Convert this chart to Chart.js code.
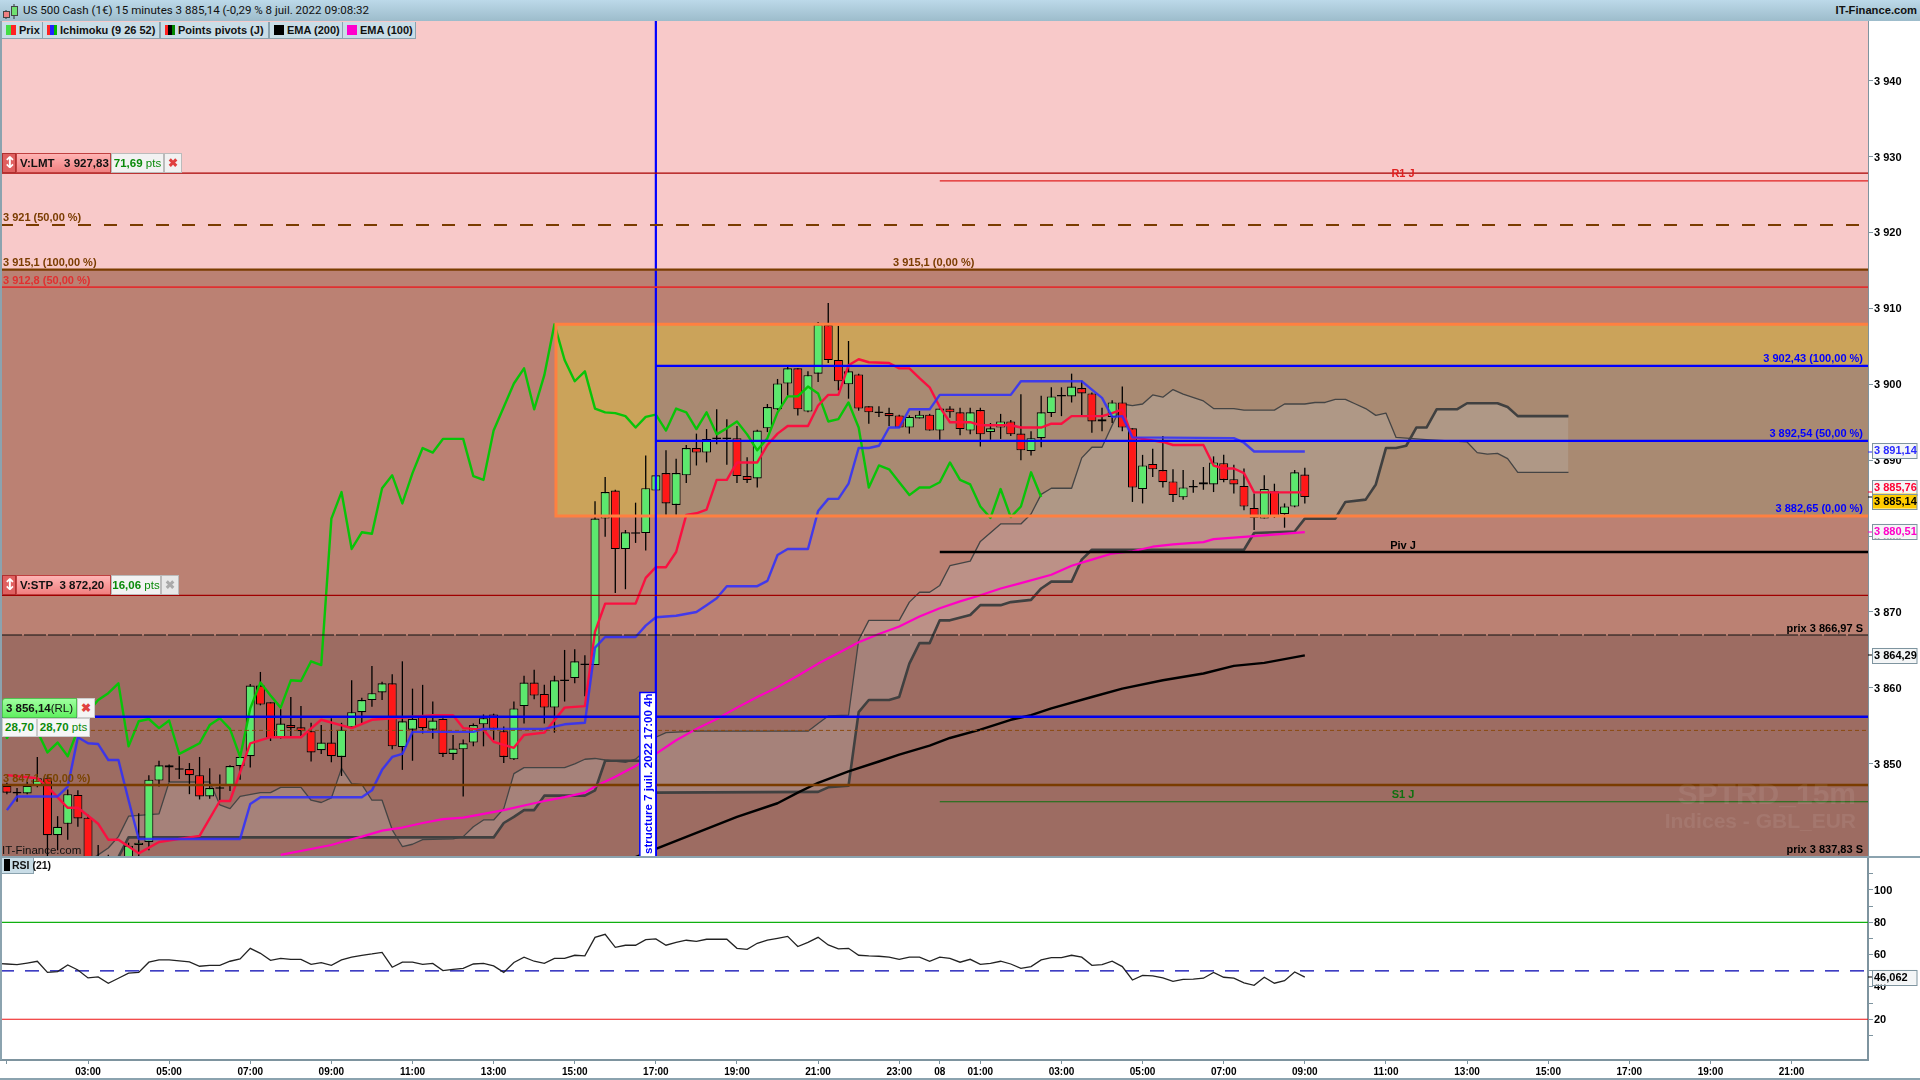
<!DOCTYPE html>
<html><head><meta charset="utf-8"><title>US 500 Cash</title>
<script src="https://cdn.jsdelivr.net/npm/chart.js@4/dist/chart.umd.min.js"></script>
<style>
html,body{margin:0;padding:0;background:#fff;width:1920px;height:1080px;overflow:hidden;font-family:"Noto Sans",Roboto,sans-serif;}
canvas{position:absolute;left:0;display:block}
.abs{position:absolute}
#hdr{left:0;top:0;width:1920px;height:21px;background:linear-gradient(#bcd9e9,#9dbccb);font-size:12px;line-height:21px;color:#111;white-space:nowrap}
#hdr .t{position:absolute;left:23px;top:0;font-family:Roboto,sans-serif;font-size:11.55px}
#hdr .r{position:absolute;right:3px;top:0;font-family:"Liberation Sans",sans-serif;font-weight:bold;font-size:11.2px}
.tab{position:absolute;top:22px;height:16px;background:#c9dde7;border:1px solid #8ba3af;border-top:0;box-sizing:content-box;font-family:"Liberation Sans",sans-serif;font-weight:700;font-size:11px;line-height:16px;color:#111;white-space:nowrap}
.tab i{position:absolute;top:3px;width:10px;height:10px}
.tab b{position:absolute;left:17px;top:0;font-weight:700}
.w{position:absolute;box-sizing:border-box;font-family:"Liberation Sans",sans-serif;font-size:11.5px;font-weight:700;white-space:nowrap;line-height:18px;text-align:center}
.pts{font-weight:400}
.ar{font-family:"DejaVu Sans",sans-serif;font-size:16px;line-height:17px}
</style></head><body>
<canvas id="price" width="1920" height="836" style="top:21px"></canvas>
<canvas id="rsi" width="1920" height="223" style="top:857px"></canvas>
<div class="abs" id="hdr">
<svg style="position:absolute;left:3px;top:3px" width="16" height="16"><path d="M3 7v9M11 1v15" stroke="#333"/><rect x="0.5" y="8.5" width="6" height="6" fill="#f08080" stroke="#444"/><rect x="8.5" y="3.5" width="6" height="9" fill="#70e070" stroke="#444"/></svg>
<span class="t">US 500 Cash (1€) 15 minutes 3 885,14 (-0,29 % 8 juil. 2022 09:08:32</span><span class="r">IT-Finance.com</span></div>
<div class="tab" style="left:1px;width:40px"><i style="left:4px;background:linear-gradient(90deg,#4d4 50%,#f22 50%)"></i><b>Prix</b></div>
<div class="tab" style="left:42px;width:116px"><i style="left:4px;background:linear-gradient(90deg,#f22 33%,#22f 33% 66%,#0b0 66%)"></i><b>Ichimoku (9 26 52)</b></div>
<div class="tab" style="left:160px;width:107px"><i style="left:4px;background:linear-gradient(90deg,#f22 33%,#000 33% 66%,#080 66%)"></i><b>Points pivots (J)</b></div>
<div class="tab" style="left:269px;width:72px"><i style="left:4px;background:#000"></i><b>EMA (200)</b></div>
<div class="tab" style="left:342px;width:72px"><i style="left:4px;background:#f0c"></i><b>EMA (100)</b></div>

<div class="w ar" style="left:2px;top:153px;width:14px;height:20px;background:#e06060;border:1px solid #b03030;color:#fff">↕</div>
<div class="w" style="left:16px;top:153px;width:95px;height:20px;background:linear-gradient(#ffb4b4,#f08080);border:1px solid #c04040;color:#111;text-align:left;padding-left:3px">V:LMT &nbsp; 3 927,83</div>
<div class="w" style="left:111px;top:153px;width:53px;height:20px;background:#f2f2f2;border:1px solid #bbb;color:#0a8a0a">71,69 <span class="pts">pts</span></div>
<div class="w" style="left:164px;top:153px;width:18px;height:20px;background:#f2f2f2;border:1px solid #bbb;color:#e04040">✖</div>

<div class="w ar" style="left:2px;top:575px;width:14px;height:20px;background:#e06060;border:1px solid #b03030;color:#fff">↕</div>
<div class="w" style="left:16px;top:575px;width:95px;height:20px;background:linear-gradient(#ffb4b4,#f08080);border:1px solid #c04040;color:#111;text-align:left;padding-left:3px">V:STP &nbsp;3 872,20</div>
<div class="w" style="left:111px;top:575px;width:50px;height:20px;background:#f2f2f2;border:1px solid #bbb;color:#0a8a0a">16,06 <span class="pts">pts</span></div>
<div class="w" style="left:161px;top:575px;width:18px;height:20px;background:#e8e8e8;border:1px solid #bbb;color:#aaa">✖</div>

<div class="w" style="left:2px;top:698px;width:75px;height:20px;background:linear-gradient(#a0ffa0,#60f060);border:1px solid #50c050;border-radius:3px 0 0 0;color:#111">3 856,14<span class="pts">(RL)</span></div>
<div class="w" style="left:77px;top:698px;width:18px;height:20px;background:#f4f4f4;border:1px solid #ccc;color:#e04040">✖</div>
<div class="w" style="left:2px;top:718px;width:35px;height:19px;background:#f6f6f6;border:1px solid #ccc;color:#0a8a0a;line-height:17px">28,70</div>
<div class="w" style="left:37px;top:718px;width:53px;height:19px;background:#f6f6f6;border:1px solid #ccc;color:#0a8a0a;line-height:17px">28,70 <span class="pts">pts</span></div>

<div class="tab" style="left:1px;top:857px;width:31px;height:16px;padding:0"><i style="left:2px;width:6px;height:12px;top:2px;background:#000"></i><b style="left:10px;font-size:10.5px">RSI (21)</b></div>
<div class="abs" style="left:0;top:21px;width:2px;height:1039px;background:#8ba3af"></div>
<div class="abs" style="left:0;top:856px;width:1920px;height:2px;background:#8ba3af"></div>
<div class="abs" style="left:0;top:1078px;width:1920px;height:2px;background:#8ba3af"></div>

<script>
// Candles, 15 minute bars, first bar is 01:00 on 7 July (bar number -8), bar 0 is 03:00
const firstBar = -8;
const opens = [3847.1,3846.3,3846.1,3847.1,3848.1,3840.6,3842.1,3845.9,3842.9,3832,3835,3835,3836.7,3839.3,3839.7,3847.8,3849.8,3849.2,3849.3,3848.5,3845.7,3846.9,3847.1,3849.7,3851.0,3860.3,3858.1,3853.4,3855.1,3854.8,3854.3,3851.8,3852.8,3850.9,3854.8,3856.8,3858.4,3859.4,3860.6,3852.2,3854.5,3856.2,3854.5,3855.9,3851.3,3851.9,3852.8,3855.2,3856.5,3854.3,3850.6,3857.6,3860.7,3859.2,3857.4,3861.1,3861.3,3863.2,3863.0,3882.3,3886.0,3878.3,3880.5,3880.4,3886.0,3888.3,3884.1,3888.0,3891.6,3891.0,3893.0,3893.0,3892.9,3887.9,3887.6,3894.2,3896.7,3900.1,3902.1,3896.4,3901.4,3907.8,3903.2,3900.0,3901.3,3897.1,3896.4,3896.2,3895.9,3894.3,3895.5,3896.0,3893.9,3896.8,3896.3,3893.9,3896.6,3893.7,3894.3,3895.1,3893.5,3891.2,3892.9,3896.2,3898.6,3898.4,3899.5,3898.8,3895.1,3895.7,3897.6,3894.2,3886.2,3889.5,3888.7,3887.2,3885.1,3886.6,3886.8,3886.8,3889.6,3887.5,3886.6,3883.7,3882.3,3885.9,3882.9,3883.9,3888.1];
const highs = [3847.5,3846.8,3847.6,3850.9,3848.5,3843.1,3846.6,3846.5,3843.3,3839.3,3838.0,3837,3839.6,3843.5,3848.5,3850.4,3849.9,3851.0,3850.1,3850.9,3849.4,3848.6,3849.8,3851,3860.5,3862.1,3858.1,3857.2,3858.8,3857.6,3855.4,3855.1,3856.0,3855.4,3861.0,3858.7,3862.9,3860.8,3861.8,3863.5,3859.9,3860.4,3858.2,3856.0,3853.8,3853.2,3855.3,3856.5,3856.6,3854.9,3858.2,3861.6,3862.4,3860.4,3861.6,3865.0,3865.1,3864.3,3884.6,3887.8,3886.1,3880.8,3884.4,3890.6,3888.2,3891.3,3890.2,3892.0,3893.5,3894.1,3896.7,3895.4,3894.5,3890.4,3894,3897.4,3900.7,3902.4,3902.1,3901.7,3908.2,3910.7,3907.7,3905.7,3901.4,3897.1,3897.1,3896.9,3896,3895.9,3896.5,3896.1,3896.9,3897.1,3896.9,3896.9,3896.9,3894.9,3896.1,3895.3,3898.7,3893.8,3898.5,3899.6,3899.6,3901.4,3900.5,3898.9,3896.9,3897.9,3899.7,3894.2,3890.7,3891.5,3893.2,3888.8,3888.7,3887.4,3889.1,3890.5,3890.7,3889.4,3888.9,3885.6,3888.0,3886.9,3884.3,3888.7,3889.0];
const lows = [3846.0,3845.0,3846.0,3846.9,3837.3,3838.6,3840.0,3841.7,3833.4,3831,3834,3834,3835,3837.7,3838.6,3847.0,3847.6,3848.0,3846.0,3845.3,3845.4,3845.2,3846.4,3847.9,3849.5,3857.7,3853.0,3853.3,3853.5,3853.5,3850.3,3851.3,3850.2,3848.4,3854.8,3855.1,3857.5,3858.4,3851.9,3849.2,3850.4,3854.0,3853.3,3850.9,3850.5,3845.7,3852.3,3852.3,3853.1,3850.1,3850.5,3855.3,3858.5,3855.3,3854.1,3858.2,3860.6,3858.9,3863.0,3879.9,3872.5,3873.0,3879.1,3878.1,3885.9,3882.8,3882.8,3887.0,3889.3,3889.7,3892.1,3889.4,3887.0,3887.0,3886.4,3893.7,3896.6,3898.5,3895.9,3896.3,3900.3,3902.8,3899.2,3898.1,3896.5,3894.8,3895.7,3894.5,3894.3,3893.5,3895.5,3893.9,3892.7,3895.6,3893.3,3893.4,3891.8,3892.7,3892.8,3893.2,3890.0,3890.6,3891.7,3895.7,3895.8,3897.6,3895.8,3893.6,3893.8,3894.9,3893.8,3884.5,3884.3,3887.8,3886.4,3884.5,3884.8,3885.7,3886.1,3885.8,3887.1,3885.6,3883.4,3880.8,3882.3,3882.4,3881.1,3883.8,3884.3];
const closes = [3846.2,3846.1,3847.1,3848.1,3840.6,3841.7,3846.0,3842.8,3834.7,3835,3836,3836,3839.2,3839.6,3847.9,3849.8,3849.5,3849.4,3848.5,3845.7,3846.8,3846.7,3849.7,3850.9,3860.3,3857.8,3853.4,3855.3,3854.7,3854.3,3851.5,3852.8,3851.0,3854.5,3856.8,3858.4,3859.3,3860.6,3852.3,3855.6,3855.9,3854.7,3855.7,3851.3,3852.0,3852.7,3855.1,3856.0,3854.6,3850.9,3857.3,3860.7,3859.0,3857.4,3861.0,3860.9,3863.5,3863.0,3882.3,3885.8,3878.3,3880.5,3880.3,3886.3,3888.0,3884.3,3888.3,3891.6,3891.0,3892.8,3892.8,3892.8,3887.9,3887.4,3893.9,3897.0,3900.1,3902.1,3896.7,3901.2,3907.9,3903.2,3900.4,3901.7,3896.8,3896.3,3896.2,3895.8,3894.3,3895.7,3896.0,3893.9,3896.8,3896.3,3894.1,3896.3,3893.4,3894.2,3895.1,3893.4,3891.3,3892.9,3896.3,3898.4,3898.4,3899.7,3898.8,3895.1,3895.4,3897.6,3894.3,3886.4,3889.3,3888.8,3887.1,3885.4,3886.4,3886.4,3887.1,3889.7,3887.4,3886.8,3883.9,3882.4,3886.2,3882.5,3883.9,3888.4,3885.14];

const tenkanBars = [-8,-5,-4,-2,-1,1,2,3,5,7,11,13,14,16,18,21,23,26,28,34,36,37,39,40,42,43,45,47,49,50,51,54,55,56,57,58,59,60,61,62,63,64,66,67,68,69,71,72,73,74,75,76,77,79,80,81,82,83,84,85,87,88,91,92,94,95,96,97,100,101,102,103,106,107,110,111,112,113,114,115,120];
const tenkanVals = [3848.5,3848.1,3847.0,3844.2,3844.2,3842.1,3840.0,3840.0,3838.2,3839.7,3840.5,3845.1,3845.1,3852.7,3853.5,3853.5,3855.8,3854.7,3855.8,3856.4,3856.4,3854.7,3854.5,3852.9,3852.1,3853.8,3854.1,3857.4,3857.6,3867.4,3871.1,3871.1,3874.5,3875.9,3875.9,3877.9,3882.8,3883.0,3883.5,3887.4,3887.4,3889.7,3889.7,3892.0,3893.5,3894.5,3894.5,3897.2,3898.6,3898.6,3902.5,3903.3,3902.9,3902.8,3902.1,3902.1,3900.8,3899.6,3897.0,3895.0,3895.0,3894.6,3894.6,3894.3,3894.3,3894.8,3894.8,3895.8,3895.8,3896.2,3896.7,3893.0,3892.4,3892.0,3892.0,3889.3,3888.9,3888.9,3888.3,3885.76,3885.76];

const kijunBars = [-8,-7,-3,-2,-1,0,1,2,3,4,5,15,16,17,27,28,29,30,31,32,38,39,45,47,49,50,51,54,55,56,58,60,61,62,63,66,67,68,69,71,72,73,74,75,76,77,78,79,80,81,83,84,91,92,98,99,100,101,102,103,113,114,115,120];
const kijunVals = [3843.9,3845.7,3845.7,3847.0,3853.5,3852.7,3852.6,3850.5,3850.5,3845.2,3840.1,3840.1,3844.7,3845.6,3845.6,3846.5,3849.2,3850.9,3851.3,3854.2,3854.2,3854.6,3854.6,3855.2,3855.4,3865.3,3866.7,3866.7,3868.2,3869.3,3869.5,3870.0,3870.9,3871.8,3873.4,3873.4,3874.1,3877.5,3878.3,3878.3,3883.3,3884.9,3884.9,3886.9,3891.6,3891.6,3891.9,3894.3,3894.3,3896.7,3896.7,3898.6,3898.6,3900.4,3900.4,3899.3,3898.2,3895.7,3895.8,3893.0,3892.9,3892.3,3891.14,3891.14];

const spanABars = [0,1,2,3,4,7,8,12,13,14,15,17,18,19,21,22,23,24,25,26,27,28,29,30,31,32,33,36,37,38,39,40,41,42,43,47,48,49,50,51,53,54,55,56,57,60,71,72,73,75,76,77,80,81,82,83,84,85,87,88,90,92,93,94,95,97,98,99,100,101,102,103,104,105,106,107,108,110,111,113,114,117,118,120,121,122,123,124,125,126,127,128,129,132,136,137,138,139,140,141,146];
const spanAVals = [3837.1,3838.0,3838.9,3840.4,3843.1,3843.4,3847.6,3847.6,3844.6,3844.1,3845.7,3846.2,3846.2,3846.9,3846.9,3845.2,3844.9,3845.5,3849.4,3847.4,3847.3,3845.2,3845.2,3841.3,3839.1,3839.4,3840.0,3840.1,3840.4,3841.7,3842.6,3842.6,3844.1,3848.7,3849.5,3849.5,3850.0,3850.6,3850.7,3850.5,3850.2,3850.6,3851.8,3853.5,3854.1,3854.3,3854.3,3855.3,3856.3,3856.4,3866.3,3868.9,3868.9,3871.3,3872.6,3872.6,3873.5,3876.1,3876.7,3879.3,3881.6,3881.6,3882.9,3885.5,3886.3,3886.3,3890.3,3891.7,3891.7,3894.6,3897.4,3897.2,3897.4,3898.6,3898.3,3899.3,3898.7,3897.8,3896.8,3896.8,3896.6,3896.6,3897.4,3897.4,3897.6,3897.6,3898.0,3898.0,3897.4,3896.8,3895.9,3896.2,3893.0,3892.7,3892.4,3891.0,3890.8,3890.9,3890.2,3888.4,3888.4];

const spanBBars = [0,2,3,4,40,41,42,43,44,45,49,50,51,55,56,72,73,75,76,77,79,80,81,82,83,84,85,87,88,90,91,93,94,95,97,98,99,114,115,119,120,123,124,126,127,128,129,130,131,132,133,135,136,139,140,141,146];
const spanBVals = [3833.0,3835.4,3837.7,3840.3,3840.3,3842.2,3843.0,3843.9,3843.9,3845.8,3845.8,3846.5,3850.4,3850.4,3846.2,3846.3,3846.9,3847.1,3856.8,3858.4,3858.4,3858.8,3863.2,3865.9,3865.9,3868.9,3868.9,3869.6,3870.9,3870.9,3871.3,3871.6,3873.1,3874.0,3874.0,3876.9,3878.2,3878.2,3880.4,3880.6,3882.3,3882.3,3884.5,3884.8,3886.8,3891.6,3891.6,3891.9,3894.3,3894.3,3896.7,3896.7,3897.5,3897.5,3897.0,3895.8,3895.8];

const ema100Bars = [19,24,25,27,29,31,33,35,37,39,41,43,45,47,49,50,52,54,56,58,60,62,64,66,68,70,72,74,76,78,80,82,84,86,88,90,92,95,97,99,101,103,105,107,110,111,114,116,120];
const ema100Vals = [3838.0,3839.3,3839.7,3840.4,3841.2,3841.6,3842.2,3842.7,3842.9,3843.4,3843.9,3844.5,3845.1,3845.6,3846.2,3847.0,3848.3,3849.7,3851.3,3853.1,3854.6,3855.9,3857.4,3858.8,3860.1,3861.6,3863.2,3864.6,3866.0,3867.1,3868.1,3869.4,3870.5,3871.4,3872.2,3873.1,3873.8,3874.9,3876.1,3876.9,3877.7,3878.0,3878.6,3878.9,3879.2,3879.6,3879.9,3880.1,3880.51];

const ema200Bars = [54,56,60,64,68,70,72,75,78,80,83,85,88,91,93,95,99,102,106,110,113,116,120];
const ema200Vals = [3837.7,3838.8,3840.9,3843.0,3844.8,3846.2,3847.5,3849.0,3850.3,3851.2,3852.4,3853.4,3854.5,3855.8,3856.4,3857.3,3858.8,3859.9,3861.0,3861.9,3862.9,3863.3,3864.29];

// RSI(21), first value belongs to bar -9
const rsiFirstBar = -9;
const rsiVals = [54.6,54.2,53.8,54.8,55.9,49,49.5,53.6,50.5,45.6,46.2,42.3,45.4,48.5,49,55.3,56.7,56.7,56.1,55.5,52.8,53.4,53.4,55.9,57.3,63.9,60.8,56.5,57.7,57.1,57.1,54,55.1,53.4,56.7,58.4,59.6,60.4,61.4,52.2,55.3,55.3,54,54.6,50.1,50.9,51.5,54.2,54.6,53,49,55.1,58.4,55.9,54.6,57.7,57.7,59.6,59.2,70.7,72.6,64.5,65.8,65.8,69.3,69.7,65.8,67.6,68.9,68.2,69.5,69.5,69.5,63.9,63.3,67,68.9,70.1,71.3,65,67.6,70.7,66,63.5,63.9,59.6,59.2,59,58.4,57.1,58.4,58.4,55.9,58.4,57.7,55.3,57.1,54,54.6,55.9,54.2,51.5,52.6,56.7,58.1,58.1,59.6,58.4,53.4,53.8,55.9,52.6,44.3,47.2,46.8,45.6,43.5,44.7,44.9,45.4,49,46,45.4,42.5,41,46,42.3,43.9,49.3,46.06];

// Levels
const limitPrice = 3927.83, fib50Upper = 3921, fibTop = 3915.1, redLevel = 3912.8;
const boxTop = 3907.9, structTop = 3902.43, structMid = 3892.54, structLow = 3882.65;
const stopPrice = 3872.20, prixHigh = 3866.97, rlPrice = 3856.2, brownDashed = 3854.4, fib50Lower = 3847.2, prixLow = 3837.83;
const r1 = 3926.8, piv = 3877.9, s1 = 3845.0;
const structureBar = 56, boxBar = 46.15, pivotBar = 84;
const xTickBars = [-8,0,8,16,24,32,40,48,56,64,72,80,84,88,96,104,112,120,128,136,144,152,160,168];
const xTickLabels = ['','03:00','05:00','07:00','09:00','11:00','13:00','15:00','17:00','19:00','21:00','23:00','08','01:00','03:00','05:00','07:00','09:00','11:00','13:00','15:00','17:00','19:00','21:00'];
const priceTicks = [3850,3860,3870,3880,3890,3900,3910,3920,3930,3940];
const rsiTickLabels = [20,40,60,80,100];

const XMIN = -8.68, XMAX = 175.54;
const pts = (xs, ys) => xs.map((x, i) => ({x, y: ys[i]}));
const hl = (v, color, w, dash, from) => ({type:'line', data:[{x: from ?? XMIN, y:v},{x:XMAX, y:v}], borderColor:color, borderWidth:w, borderDash:dash||[], pointRadius:0, order:1, tension:0});
const band = (hi, lo, color, from, order) => ({type:'line', data:[{x:from ?? XMIN, y:hi},{x:XMAX, y:hi}], borderWidth:0, borderColor:'transparent', backgroundColor:color, fill:{value:lo}, pointRadius:0, order});
const line = (data, color, w, order) => ({type:'line', data, borderColor:color, borderWidth:w, pointRadius:0, tension:0, order, borderJoinStyle:'round'});

const bars = closes.map((_, i) => firstBar + i);
const isUp = closes.map((c, i) => c >= opens[i]);
const chikou = closes.map((c, i) => ({x: firstBar + i - 26, y: c}));

const YMAX = 3947.86, YMIN = 3837.72;
const datasets = [
  band(YMAX, fibTop, '#f8c9c9', undefined, 100),
  band(fibTop, prixHigh, '#bb8173', undefined, 99),
  band(prixHigh, YMIN, '#9d6c62', undefined, 98),
  band(boxTop, structLow, '#cba35a', boxBar, 97),
  band(structTop, structLow, '#a98a72', structureBar, 96),
  Object.assign(line(pts(spanABars, spanAVals), '#444', 1.3, 50), {fill:'+1', backgroundColor:'rgba(195,195,195,0.26)'}),
  line(pts(spanBBars, spanBVals), '#404040', 2.6, 49),
  {type:'bar', grouped:false, data:bars.map((x,i)=>({x, y:[lows[i],highs[i]]})), barThickness:1.3, inflateAmount:0, backgroundColor:'#000', borderWidth:0, order:30},
  {type:'bar', grouped:false, data:bars.map((x,i)=>({x, y:[opens[i],closes[i]]})), barThickness:9, inflateAmount:0, borderColor:'#000', borderWidth:1.1, borderSkipped:false,
    backgroundColor:bars.map((x,i)=>isUp[i]?'#5ce86e':'#ff1818'), order:29},
  line(chikou, '#08c408', 2.4, 20),
  line(pts(tenkanBars, tenkanVals), '#fa1040', 2.4, 19),
  line(pts(kijunBars, kijunVals), 'rgba(45,45,255,0.85)', 2.4, 18),
  line(pts(ema100Bars, ema100Vals), '#ff00c4', 2.2, 17),
  line(pts(ema200Bars, ema200Vals), '#000', 2.4, 16),
  hl(limitPrice,'#a80000',1.2),
  hl(fib50Upper,'#7a3c00',2,[13,13]),
  hl(fibTop,'#7a3c00',2.2),
  hl(redLevel,'#e03030',1.8),
  hl(r1,'#e02020',1.2,[],pivotBar),
  hl(structTop,'#0000ff',2.2,[],structureBar),
  hl(structMid,'#0000ff',2.2,[],structureBar),
  hl(stopPrice,'#a00000',1.2),
  hl(prixHigh,'#111',1.2,[22,2]),
  hl(piv,'#000',2.6,[],pivotBar),
  hl(rlPrice,'#0000ee',2.4),
  hl(brownDashed,'#8a4a10',1,[4,3]),
  hl(fib50Lower,'#7a3c00',2.4),
  hl(s1,'#107010',1.2,[],pivotBar),
  {type:'line', data:[{x:XMAX,y:boxTop},{x:boxBar,y:boxTop},{x:boxBar,y:structLow},{x:XMAX,y:structLow}], borderColor:'#ff8040', borderWidth:3, pointRadius:0, borderJoinStyle:'miter', order:2},
  {type:'line', data:[{x:structureBar,y:YMAX},{x:structureBar,y:YMIN}], borderColor:'#0000ff', borderWidth:2.2, pointRadius:0, order:1},
];

const labelFont = 'bold 11px "Liberation Sans",sans-serif';
const leftLabels = [
  ['3 921 (50,00 %)', fib50Upper, '#7a3c00', 3],
  ['3 915,1 (100,00 %)', fibTop, '#7a3c00', 3],
  ['3 912,8 (50,00 %)', redLevel, '#e03030', 3],
  ['3 915,1 (0,00 %)', fibTop, '#7a3c00', 893],
  ['3 847,1 (50,00 %)', fib50Lower, '#7a4400', 3],
];
const rightLabels = [
  ['3 902,43 (100,00 %)', structTop, '#0000ff'],
  ['3 892,54 (50,00 %)', structMid, '#0000ff'],
  ['3 882,65 (0,00 %)', structLow, '#0000ff'],
  ['prix 3 866,97 S', prixHigh, '#000'],
  ['prix 3 837,83 S', prixLow, '#000'],
];
const centerLabels = [['R1 J', r1, '#e02020'],['Piv J', piv, '#000'],['S1 J', s1, '#107010']];
const tagsPrice = [
  ['3 891,14', 3891.14, '#2a2aff', '#f3f5f6', -1],
  ['3 885,76', 3885.76, '#ff0033', '#f3f5f6', -5],
  ['3 885,14', 3885.14, '#000', '#ffcc00', 4],
  ['3 880,51', 3880.51, '#ff00c8', '#f3f5f6', -1],
  ['3 864,29', 3864.29, '#000', '#f3f5f6', 0],
];
function tag(ctx, yv, text, color, bg, dy, font){
  const y = yv + dy;
  ctx.fillStyle = color; ctx.fillRect(1868, Math.round(yv)-0.5, 5, 1);
  ctx.fillStyle = bg; ctx.fillRect(1872.5, y-7.5, 44.5, 15);
  ctx.strokeStyle = '#7e949f'; ctx.lineWidth = 1; ctx.strokeRect(1872.5, Math.round(y-7.5)+.5, 44.5, 15);
  ctx.fillStyle = color; ctx.font = font; ctx.textAlign='left'; ctx.textBaseline='middle';
  ctx.fillText(text, 1874, y+.5);
}
const overlay = {id:'overlay', afterDatasetsDraw(c){
  const ctx = c.ctx, ys = c.scales.y;
  ctx.save();
  ctx.textBaseline = 'middle';
  ctx.font = labelFont;
  leftLabels.forEach(([t,v,col,x])=>{ctx.fillStyle=col;ctx.textAlign='left';ctx.fillText(t,x,ys.getPixelForValue(v)-6.5);});
  rightLabels.forEach(([t,v,col])=>{ctx.fillStyle=col;ctx.textAlign='right';ctx.fillText(t,1863,ys.getPixelForValue(v)-6.5);});
  centerLabels.forEach(([t,v,col])=>{ctx.fillStyle=col;ctx.textAlign='center';ctx.fillText(t,1403,ys.getPixelForValue(v)-6.5);});
  ctx.fillStyle='#111';ctx.textAlign='left';ctx.font='11.5px "Liberation Sans",sans-serif';ctx.fillText('IT-Finance.com',2,830);
  ctx.fillStyle='rgba(255,255,255,0.08)';ctx.textAlign='right';
  ctx.font='bold 30px "Liberation Sans",sans-serif';ctx.fillText('SPTRD_15m',1856,775);
  ctx.font='bold 21px "Liberation Sans",sans-serif';ctx.fillText('Indices - GBL_EUR',1856,801);
  // vertical structure flag
  const fx = c.scales.x.getPixelForValue(structureBar);
  ctx.fillStyle='#fff';ctx.fillRect(fx-16,671.5,16,165);
  ctx.strokeStyle='#0000ff';ctx.lineWidth=1.5;ctx.strokeRect(fx-16,671.5,16,165);
  ctx.translate(fx-7,833);ctx.rotate(-Math.PI/2);
  ctx.fillStyle='#0000ff';ctx.textAlign='left';ctx.font='bold 11.5px "Liberation Sans",sans-serif';
  ctx.fillText('structure 7 juil. 2022 17:00 4h',0,0);
  ctx.restore();
  ctx.save();
  tagsPrice.forEach(([t,v,col,bg,dy])=>tag(ctx, ys.getPixelForValue(v), t, col, bg, dy, labelFont));
  ctx.restore();
}};
const rsiOverlay = {id:'rsiOverlay', afterDraw(c){
  const ctx=c.ctx; ctx.save();
  tag(ctx, c.scales.y.getPixelForValue(46.06), '46,062', '#000', '#f3f5f6', 0, 'bold 11px "Liberation Sans",sans-serif');
  ctx.restore();
}};
const noPad = s => { s.paddingTop = 0; s.paddingBottom = 0; s.paddingLeft = 0; s.paddingRight = 0; };
const axisColor = '#7e949f';
const tickFont = {family:'"Liberation Sans",sans-serif', size:11, weight:'bold'};
Chart.defaults.animation = false;
new Chart(document.getElementById('price'), {
  type:'bar',
  data:{datasets},
  plugins:[overlay],
  options:{responsive:false, devicePixelRatio:1, animation:false, events:[], layout:{padding:0},
    plugins:{legend:{display:false},tooltip:{enabled:false},title:{display:false}},
    scales:{
      x:{type:'linear',display:false,min:XMIN,max:XMAX,offset:false,grid:{display:false}},
      y:{type:'linear',position:'right',min:YMIN,max:YMAX,
        afterFit(s){s.width=52;noPad(s);},
        afterBuildTicks(s){s.ticks=priceTicks.map(value=>({value}));},
        grid:{drawOnChartArea:false,drawTicks:true,tickLength:5,color:axisColor},
        border:{color:axisColor,width:2},
        ticks:{color:'#000',font:tickFont,padding:1,autoSkip:false,labelOffset:1,
          callback:v=>String(v).replace(/^(\d)(\d{3})$/,'$1 $2')}}
    }}
});
new Chart(document.getElementById('rsi'), {
  type:'line',
  data:{datasets:[
    {data:rsiVals.map((y,i)=>({x:rsiFirstBar+i,y})),borderColor:'#222',borderWidth:1.3,pointRadius:0,tension:0,order:1},
    {data:[{x:XMIN,y:80},{x:XMAX,y:80}],borderColor:'#10b010',borderWidth:1.2,pointRadius:0,order:2},
    {data:[{x:XMIN,y:20},{x:XMAX,y:20}],borderColor:'#ee1010',borderWidth:1.2,pointRadius:0,order:2},
    {data:[{x:XMIN,y:50},{x:XMAX,y:50}],borderColor:'#0000b0',borderWidth:1.2,borderDash:[14,11],pointRadius:0,order:2},
  ]},
  plugins:[rsiOverlay],
  options:{responsive:false, devicePixelRatio:1, animation:false, events:[], layout:{padding:0},
    plugins:{legend:{display:false},tooltip:{enabled:false}},
    scales:{
      x:{type:'linear',min:XMIN,max:XMAX,
        afterFit(s){s.height=20;noPad(s);},
        afterBuildTicks(s){s.ticks=xTickBars.map(value=>({value}));},
        grid:{drawOnChartArea:false,tickLength:4,color:axisColor},
        border:{color:axisColor,width:2},
        ticks:{color:'#000',font:{family:'"Liberation Sans",sans-serif',size:10,weight:'bold'},padding:2,autoSkip:false,maxRotation:0,
          callback:v=>xTickLabels[xTickBars.indexOf(v)]}},
      y:{type:'linear',position:'right',min:-5.2,max:120.4,
        afterFit(s){s.width=52;noPad(s);},
        afterBuildTicks(s){s.ticks=[10,20,30,40,50,60,70,80,90,100,110].map(value=>({value}));},
        grid:{drawOnChartArea:false,tickLength:5,color:axisColor},
        border:{color:axisColor,width:2},
        ticks:{color:'#000',font:tickFont,padding:1,autoSkip:false,labelOffset:0.5,
          callback:v=>rsiTickLabels.includes(v)?String(v):''}}
    }}
});
</script>
</body></html>
